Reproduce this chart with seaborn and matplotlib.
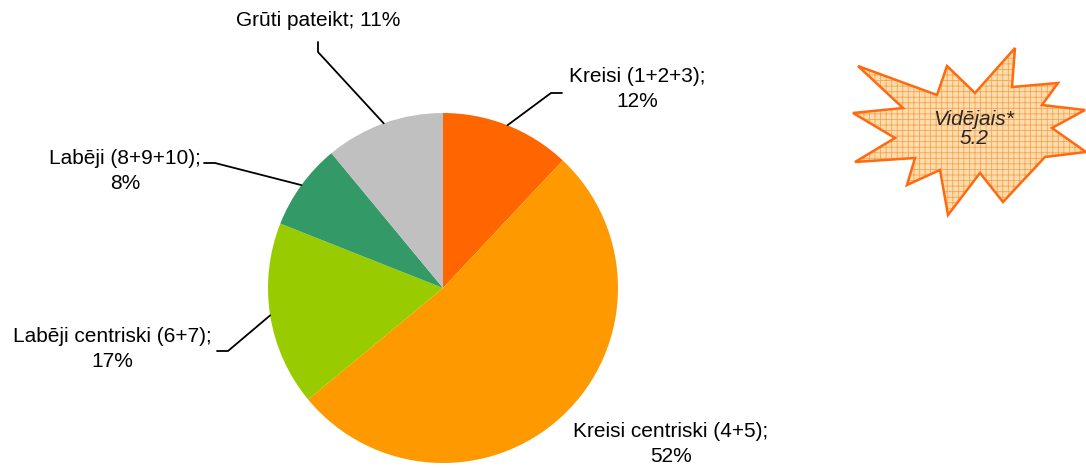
import matplotlib
matplotlib.use("Agg")
import matplotlib.pyplot as plt
import seaborn as sns
import numpy as np
from matplotlib.patches import Polygon

# data
categories = ["Kreisi (1+2+3)", "Kreisi centriski (4+5)", "Labēji centriski (6+7)",
              "Labēji (8+9+10)", "Grūti pateikt"]
shares = [12, 52, 17, 8, 11]
colors = ["#FF6600", "#FF9900", "#99CC00", "#339966", "#C0C0C0"]
average_label = "Vidējais*\n5.2"

sns.set_theme(style="white")
plt.rcParams['font.family'] = ['Liberation Sans', 'DejaVu Sans']
plt.rcParams['hatch.linewidth'] = 0.6

W, H = 1086, 468
fig = plt.figure(figsize=(W / 100, H / 100), dpi=100)
ax = fig.add_axes([0, 0, 1, 1])

cx, cy, r = 443, H - 288, 175
wedges, _ = ax.pie(shares, colors=colors, startangle=90, counterclock=False,
                   center=(cx, cy), radius=r, frame=True,
                   wedgeprops=dict(linewidth=0))
ax.set_xlim(0, W)
ax.set_ylim(0, H)
ax.set_aspect('equal')
ax.axis('off')

# label text positions (pixels from top-left) and leader elbows
label_pos = [(637, 89), (671, 444), (112, 349), (125, 171), (318, 20)]
elbows = [[(551, 93), (562, 93)], None, [(228, 351), (217, 351)],
          [(215, 163), (204, 163)], [(318, 52), (318, 42)]]
one_line = [False, False, False, False, True]

for w, cat, val, (tx, ty), elb, single in zip(wedges, categories, shares,
                                               label_pos, elbows, one_line):
    ang = np.deg2rad((w.theta1 + w.theta2) / 2)
    sx, sy = cx + r * np.cos(ang), cy + r * np.sin(ang)
    txt = f"{cat}; {val}%" if single else f"{cat};\n{val}%"
    ax.text(tx, H - ty, txt, ha='center', va='center', fontsize=15,
            linespacing=1.45, color='black')
    if elb is not None:
        xs = [sx] + [p[0] for p in elb]
        ys = [sy] + [H - p[1] for p in elb]
        ax.plot(xs, ys, color='black', lw=1.3)

# starburst callout
star_px = [(858, 66), (937, 95), (947, 66), (975, 93), (1015, 48), (1012, 87),
           (1058, 83), (1042, 105), (1085, 110), (1052, 128), (1086, 152),
           (1045, 157), (1003, 202), (980, 173), (948, 215), (940, 170),
           (907, 185), (915, 158), (855, 162), (895, 138), (853, 113), (903, 108)]
star = [(x, H - y) for x, y in star_px]
ax.add_patch(Polygon(star, closed=True, facecolor='#FDDCB0', edgecolor='#F7A54A',
                     hatch='+++', linewidth=0, zorder=3))
ax.add_patch(Polygon(star, closed=True, facecolor='none', edgecolor='#FF6A10',
                     linewidth=1.8, zorder=4))
ax.text(974, H - 129, average_label, ha='center', va='center', fontsize=15,
        style='italic', linespacing=1.05, zorder=5)

fig.savefig("out.png", dpi=100)
